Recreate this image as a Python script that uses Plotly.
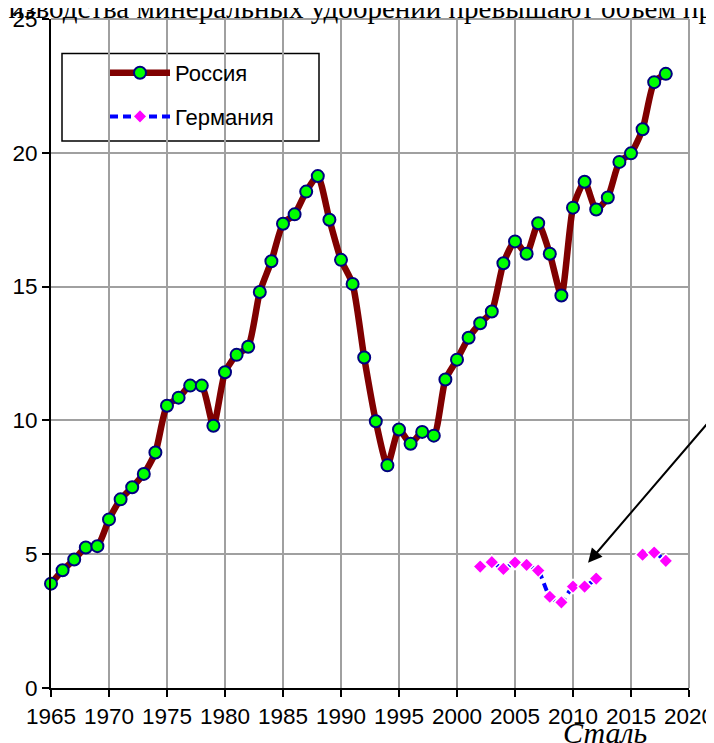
import plotly.graph_objects as go

years_ru = list(range(1965, 2019))
russia = [3.9, 4.4, 4.8, 5.25, 5.3, 6.3, 7.05, 7.5, 8.0, 8.8,
          10.55, 10.85, 11.3, 11.3, 9.8, 11.8, 12.45, 12.75, 14.8, 15.95,
          17.35, 17.7, 18.55, 19.13, 17.5, 16.0, 15.1, 12.35, 9.97, 8.32,
          9.66, 9.13, 9.57, 9.43, 11.53, 12.27, 13.09, 13.63, 14.07, 15.87,
          16.69, 16.23, 17.37, 16.23, 14.67, 17.95, 18.92, 17.88, 18.33, 19.66,
          19.98, 20.88, 22.64, 22.95]

years_de = list(range(2002, 2019))
germany = [4.54, 4.70, 4.45, 4.69, 4.60, 4.39, 3.41, 3.20, 3.79, 3.79,
           4.09, None, None, None, 4.98, 5.06, 4.75]

x_ticks = list(range(1965, 2021, 5))
y_ticks = list(range(0, 26, 5))

top_text = "производства минеральных удобрений превышают объем пр"
bottom_text = "Сталь"

SANS = "Liberation Sans, Arial, sans-serif"
SERIF = "Liberation Serif, Times New Roman, serif"

fig = go.Figure()
fig.add_trace(go.Scatter(
    x=years_ru, y=russia, name="Россия", mode="lines+markers",
    legendgroup="ru",
    line=dict(color="#800000", width=6.5, shape="spline", smoothing=0.6),
    marker=dict(symbol="circle", size=12, color="#00FF00",
                line=dict(color="#000080", width=2)),
    cliponaxis=False,
))
fig.add_trace(go.Scatter(
    x=years_de, y=germany, name="Германия", mode="lines+markers",
    legendgroup="de", connectgaps=False,
    line=dict(color="#0000FF", width=4, dash="8px,5px", shape="spline", smoothing=0.6),
    marker=dict(symbol="diamond", size=11, color="#FF00FF",
                line=dict(color="#FFFFFF", width=1.5)),
    cliponaxis=False,
))

# the page body has an 8px margin; figure sized so it fits the window
OFF = 8
W, H = 706, 735
L, T = 51 - OFF, 19 - OFF
R = W - (689 - OFF)
B = H - (688.5 - OFF)
pw, ph = W - L - R, H - T - B

def px_x(px):
    return (px - OFF - L) / pw

def px_y(py):
    return (H - B - (py - OFF)) / ph

axis_common = dict(
    showgrid=True, gridcolor="#A0A0A0", gridwidth=2,
    showline=True, linecolor="black", linewidth=2,
    ticks="outside", ticklen=7, tickwidth=1.5, tickcolor="black",
    zeroline=False, automargin=False, ticklabeloverflow="allow",
    tickfont=dict(family=SANS, size=22.5),
)

fig.update_layout(
    width=W, height=H,
    margin=dict(l=L, r=R, t=T, b=B, pad=0, autoexpand=False),
    paper_bgcolor="white", plot_bgcolor="white",
    font=dict(family=SANS, size=22, color="black"),
    showlegend=True,
    legend=dict(
        x=px_x(105), y=px_y(52), xanchor="left", yanchor="top",
        bgcolor="rgba(0,0,0,0)", borderwidth=0,
        font=dict(family=SANS, size=22, color="black"),
        itemwidth=60, traceorder="grouped", tracegroupgap=12,
    ),
    xaxis=dict(range=[1965, 2020], tickmode="array", tickvals=x_ticks,
               ticktext=[str(v) for v in x_ticks], **axis_common),
    yaxis=dict(range=[0, 25], tickmode="array", tickvals=y_ticks,
               ticktext=[str(v) for v in y_ticks], **axis_common),
    shapes=[
        dict(type="rect", xref="paper", yref="paper",
             x0=px_x(62), x1=px_x(319), y0=px_y(141), y1=px_y(53.5),
             line=dict(color="black", width=1.5), fillcolor="white", layer="below"),
        dict(type="line", xref="paper", yref="paper", x0=0, x1=1, y0=1, y1=1,
             line=dict(color="#A0A0A0", width=2), layer="below"),
        dict(type="line", xref="paper", yref="paper", x0=1, x1=1, y0=0, y1=1,
             line=dict(color="#A0A0A0", width=2), layer="below"),
    ],
    annotations=[
        dict(text=top_text, xref="paper", yref="paper",
             x=px_x(4), y=px_y(26), xanchor="left", yanchor="bottom",
             xshift=-42, showarrow=False,
             font=dict(family=SERIF, size=29, color="black")),
        dict(text="<i>" + bottom_text + "</i>", xref="paper", yref="paper",
             x=px_x(605), y=px_y(752), xanchor="center", yanchor="bottom",
             showarrow=False, font=dict(family=SERIF, size=30, color="black")),
        dict(x=2011.3, y=4.68, xref="x", yref="y", text="",
             showarrow=True, ax=126, ay=-147, axref="pixel", ayref="pixel",
             arrowhead=2, arrowsize=1.4, arrowwidth=2, arrowcolor="black"),
    ],
)

fig.write_html("out.html")
